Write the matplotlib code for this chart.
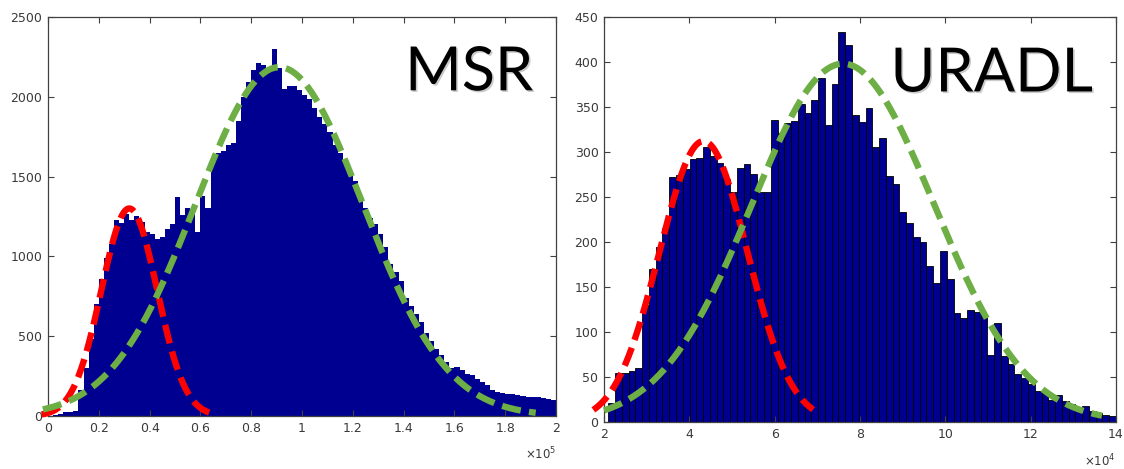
import numpy as np
import matplotlib
matplotlib.use("Agg")
import matplotlib.pyplot as plt
import matplotlib.patheffects as pe

# MSR histogram: 100 bins of width 2000 between 0 and 200000
msr_range = (0, 200000)
msr_counts = [
    3, 5, 10, 22, 25, 30, 160, 300, 480, 700,
    860, 990, 1080, 1230, 1210, 1265, 1230, 1250, 1215, 1150,
    1140, 1110, 1120, 1170, 1205, 1370, 1260, 1300, 1290, 1150,
    1375, 1300, 1620, 1650, 1660, 1695, 1710, 1850, 2000, 2090,
    2170, 2210, 2200, 2160, 2300, 2180, 2050, 2065, 2070, 2045,
    2010, 1985, 1930, 1870, 1830, 1780, 1700, 1650, 1600, 1525,
    1470, 1370, 1300, 1240, 1200, 1140, 1060, 950, 900, 845,
    740, 690, 640, 590, 520, 470, 420, 380, 340, 300,
    310, 290, 265, 255, 230, 210, 195, 165, 150, 145,
    140, 135, 130, 128, 122, 118, 120, 112, 108, 100,
]

# URADL histogram: 75 bins between 21000 and 140000
uradl_range = (21000, 140000)
uradl_counts = [
    21, 54, 55, 57, 60, 130, 170, 195, 215, 272,
    274, 281, 292, 293, 306, 295, 288, 270, 255, 282,
    287, 275, 256, 256, 335, 321, 332, 334, 353, 343,
    358, 382, 330, 376, 433, 419, 341, 333, 349, 306,
    315, 273, 264, 233, 221, 206, 200, 173, 155, 190,
    159, 121, 116, 124, 122, 119, 74, 110, 73, 65,
    53, 49, 42, 34, 33, 25, 30, 23, 20, 14,
    18, 12, 10, 8, 7,
]

# fitted normal components: peak, mean, sigma, first x, last x
msr_fit_small = (1300, 32000, 11000, -2500, 66000)
msr_fit_large = (2185, 91000, 33000, -2000, 192000)
uradl_fit_small = (312, 43300, 10300, 17500, 69000)
uradl_fit_large = (398, 76000, 21400, 20000, 136700)

msr_xticks = [0, 20000, 40000, 60000, 80000, 100000, 120000, 140000, 160000, 180000, 200000]
msr_xlabels = ["0", "0.2", "0.4", "0.6", "0.8", "1", "1.2", "1.4", "1.6", "1.8", "2"]
msr_yticks = [0, 500, 1000, 1500, 2000, 2500]
uradl_xticks = [20000, 40000, 60000, 80000, 100000, 120000, 140000]
uradl_xlabels = ["2", "4", "6", "8", "10", "12", "14"]
uradl_yticks = [0, 50, 100, 150, 200, 250, 300, 350, 400, 450]

BAR = "#000090"
RED = "#ff0000"
GREEN = "#6dae45"
TICK = "#3a3a3a"


def fit_line(ax, fit, color):
    peak, mu, sigma, x0, x1 = fit
    x = np.linspace(x0, x1, 300)
    y = peak * np.exp(-0.5 * ((x - mu) / sigma) ** 2)
    ax.plot(x, y, color=color, lw=4.6, dashes=(3.0, 1.3), clip_on=False,
            dash_capstyle="butt", zorder=3)


def style_axes(ax, xticks, xlabels, yticks, exponent):
    ax.set_xticks(xticks)
    ax.set_xticklabels(xlabels)
    ax.set_yticks(yticks)
    ax.tick_params(direction="in", length=4, width=0.8, top=True, right=True,
                   labelsize=9, labelcolor=TICK, color="#404040", pad=4)
    for sp in ax.spines.values():
        sp.set_color("#404040")
        sp.set_linewidth(0.9)
    ax.text(1.0, -0.075, r"$\times\mathregular{10}^{%d}$" % exponent, transform=ax.transAxes,
            ha="right", va="top", fontsize=8.5, color=TICK)


def title(ax, text):
    ax.text(0.955, 0.816, text, transform=ax.transAxes, ha="right", va="baseline",
            fontsize=44, family="Lato", color="black", zorder=5,
            path_effects=[pe.withSimplePatchShadow(offset=(1.2, -1.2), shadow_rgbFace="#999999", alpha=0.5)])


fig = plt.figure(figsize=(11.24, 4.69), dpi=100)

# MSR panel
ax1 = fig.add_axes([0.0427, 0.113, 0.452, 0.851])
edges = np.linspace(msr_range[0], msr_range[1], len(msr_counts) + 1)
ax1.bar(edges[:-1], msr_counts, width=np.diff(edges), align="edge", color=BAR, linewidth=0)
fit_line(ax1, msr_fit_small, RED)
fit_line(ax1, msr_fit_large, GREEN)
ax1.set_xlim(0, 200000)
ax1.set_ylim(0, 2500)
style_axes(ax1, msr_xticks, msr_xlabels, msr_yticks, 5)
title(ax1, "MSR")

# URADL panel
ax2 = fig.add_axes([0.5374, 0.100, 0.4555, 0.864])
edges = np.linspace(uradl_range[0], uradl_range[1], len(uradl_counts) + 1)
ax2.bar(edges[:-1], uradl_counts, width=np.diff(edges), align="edge", color=BAR,
        edgecolor="black", linewidth=0.6)
fit_line(ax2, uradl_fit_small, RED)
fit_line(ax2, uradl_fit_large, GREEN)
ax2.set_xlim(20000, 140000)
ax2.set_ylim(0, 450)
style_axes(ax2, uradl_xticks, uradl_xlabels, uradl_yticks, 4)
title(ax2, "URADL")

fig.savefig("out.png", dpi=100)
